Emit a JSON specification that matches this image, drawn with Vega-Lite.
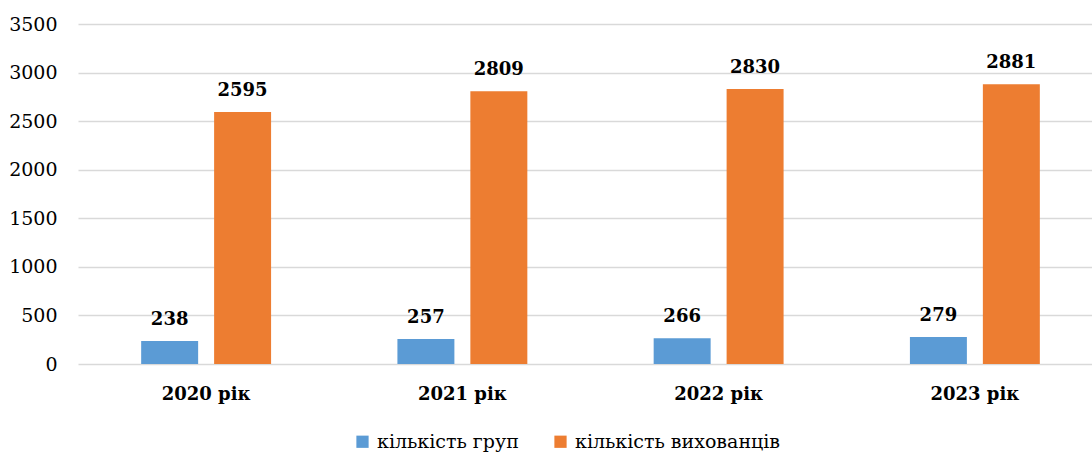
{
  "$schema": "https://vega.github.io/schema/vega-lite/v6.json",
  "autosize": {"type": "none"},
  "width": 1014,
  "height": 340,
  "padding": {"left": 78, "top": 24, "right": 0, "bottom": 91},
  "background": "white",
  "data": {
    "values": [
      {"year": "2020 рік", "series": "кількість груп", "value": 238},
      {"year": "2020 рік", "series": "кількість вихованців", "value": 2595},
      {"year": "2021 рік", "series": "кількість груп", "value": 257},
      {"year": "2021 рік", "series": "кількість вихованців", "value": 2809},
      {"year": "2022 рік", "series": "кількість груп", "value": 266},
      {"year": "2022 рік", "series": "кількість вихованців", "value": 2830},
      {"year": "2023 рік", "series": "кількість груп", "value": 279},
      {"year": "2023 рік", "series": "кількість вихованців", "value": 2881}
    ]
  },
  "encoding": {
    "x": {
      "field": "year", "type": "nominal", "sort": null,
      "scale": {"range": [0, 1025], "paddingInner": 0.493, "paddingOuter": 0.2465},
      "axis": {"title": null, "labelAngle": 0, "domain": false, "ticks": false, "grid": false,
        "labelFontSize": 18, "labelFontWeight": "bold",
        "labelColor": "#000000", "labelPadding": 21}
    },
    "xOffset": {
      "field": "series", "type": "nominal",
      "sort": ["кількість груп", "кількість вихованців"],
      "scale": {"paddingInner": 0.219, "paddingOuter": 0}
    },
    "y": {
      "field": "value", "type": "quantitative",
      "scale": {"domain": [0, 3500], "nice": false},
      "axis": {"title": null, "values": [0, 500, 1000, 1500, 2000, 2500, 3000, 3500], "format": "d",
        "domain": false, "ticks": false, "gridColor": "#d9d9d9", "gridWidth": 1.5,
        "labelFontSize": 19, "labelColor": "#000000",
        "labelPadding": 21}
    }
  },
  "layer": [
    {
      "mark": {"type": "bar"},
      "encoding": {
        "color": {
          "field": "series", "type": "nominal",
          "sort": ["кількість груп", "кількість вихованців"],
          "scale": {"domain": ["кількість груп", "кількість вихованців"], "range": ["#5B9BD5", "#ED7D31"]},
          "legend": {"title": null, "orient": "none", "direction": "horizontal",
            "legendX": 275, "legendY": 408, "symbolType": "square", "symbolSize": 150,
            "symbolStrokeWidth": 0, "labelFontSize": 19,
            "labelColor": "#000000", "columnPadding": 32, "labelOffset": 5, "labelLimit": 400}
        }
      }
    },
    {
      "mark": {"type": "text", "baseline": "alphabetic", "dy": -16,
        "fontSize": 18, "fontWeight": "bold", "color": "#000000"},
      "encoding": {"text": {"field": "value", "type": "quantitative", "format": "d"}}
    }
  ],
  "config": {"view": {"stroke": null}, "font": "DejaVu Serif"}
}
